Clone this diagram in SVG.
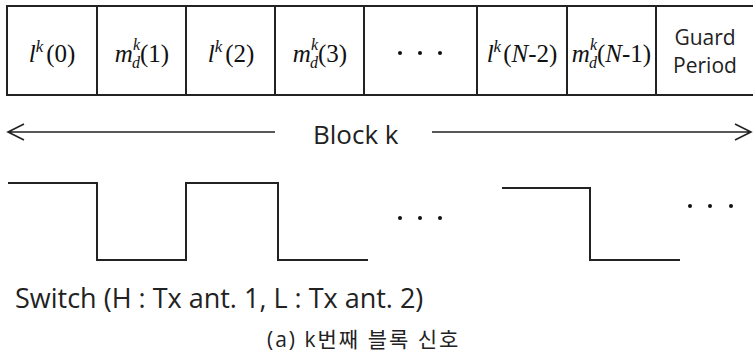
<svg xmlns="http://www.w3.org/2000/svg" width="753" height="361" viewBox="0 0 753 361">
<style>
.cell{fill:#fff;stroke:#222;stroke-width:2}
.math{font-family:"Liberation Serif",serif;font-size:25px;fill:#111}
.it{font-style:italic}
.sans{font-family:"Open Sans","Noto Sans",sans-serif;fill:#222}
.wire{fill:none;stroke:#222;stroke-width:2}
.arr{fill:none;stroke:#222;stroke-width:1.6}
.dot{fill:#111}
</style>
<rect width="753" height="361" fill="#fff"/>
<g id="cell0"><rect class="cell" x="7" y="6" width="90" height="89"/>
<text class="math" x="52" y="62" text-anchor="middle"><tspan class="it">l</tspan><tspan class="it" font-size="17" dy="-10">k</tspan><tspan dy="10" dx="3">(0)</tspan></text></g>
<g id="cell1"><rect class="cell" x="97" y="6" width="89" height="89"/>
<text class="math" x="142" y="62" text-anchor="middle"><tspan class="it">m</tspan><tspan class="it" font-size="16" dy="-12">k</tspan><tspan class="it" font-size="16" dx="-8" dy="18">d</tspan><tspan dy="-6">(1)</tspan></text></g>
<g id="cell2"><rect class="cell" x="186" y="6" width="89" height="89"/>
<text class="math" x="231" y="62" text-anchor="middle"><tspan class="it">l</tspan><tspan class="it" font-size="17" dy="-10">k</tspan><tspan dy="10" dx="3">(2)</tspan></text></g>
<g id="cell3"><rect class="cell" x="275" y="6" width="89" height="89"/>
<text class="math" x="320" y="62" text-anchor="middle"><tspan class="it">m</tspan><tspan class="it" font-size="16" dy="-12">k</tspan><tspan class="it" font-size="16" dx="-8" dy="18">d</tspan><tspan dy="-6">(3)</tspan></text></g>
<g id="cell4"><rect class="cell" x="364" y="6" width="113" height="89"/>
<circle class="dot" cx="400" cy="53" r="2"/><circle class="dot" cx="420" cy="53" r="2"/><circle class="dot" cx="440" cy="53" r="2"/></g>
<g id="cell5"><rect class="cell" x="477" y="6" width="90" height="89"/>
<text class="math" x="522" y="62" text-anchor="middle"><tspan class="it">l</tspan><tspan class="it" font-size="17" dy="-10">k</tspan><tspan dy="10" dx="2">(</tspan><tspan class="it">N</tspan><tspan>-2)</tspan></text></g>
<g id="cell6"><rect class="cell" x="567" y="6" width="89" height="89"/>
<text class="math" x="611.5" y="62" text-anchor="middle"><tspan class="it">m</tspan><tspan class="it" font-size="16" dy="-12">k</tspan><tspan class="it" font-size="16" dx="-8" dy="18">d</tspan><tspan dy="-6">(</tspan><tspan class="it">N</tspan><tspan>-1)</tspan></text></g>
<g id="guard"><rect class="cell" x="656" y="6" width="100" height="89"/>
<text class="sans" x="705" y="45" font-size="21" text-anchor="middle">Guard</text>
<text class="sans" x="705" y="73" font-size="21" text-anchor="middle">Period</text></g>
<g id="connectors">
<path class="arr" d="M8 132H275M24 124L8 132L24 140"/>
<path class="arr" d="M432 132H751M735 124L751 132L735 140"/>
<path class="wire" d="M8 183H97V260H186V183H278V260H368"/>
<path class="wire" d="M502 188H590V260H680"/>
</g>
<g id="label-block"><text class="sans" x="313" y="144" font-size="26">Block k</text></g>
<g id="dots-wave">
<circle class="dot" cx="400" cy="218" r="2"/><circle class="dot" cx="420" cy="218" r="2"/><circle class="dot" cx="440" cy="218" r="2"/>
<circle class="dot" cx="690" cy="206" r="2"/><circle class="dot" cx="710" cy="206" r="2"/><circle class="dot" cx="731" cy="206" r="2"/>
</g>
<g id="switch-label"><text class="sans" x="15" y="308" font-size="27">Switch (H : Tx ant. 1, L : Tx ant. 2)</text></g>
<g id="caption"><text x="267" y="347" font-size="21" letter-spacing="2" font-family="Open Sans, Noto Sans CJK KR, sans-serif" fill="#222">(a) k번째 블록 신호</text></g>
</svg>
